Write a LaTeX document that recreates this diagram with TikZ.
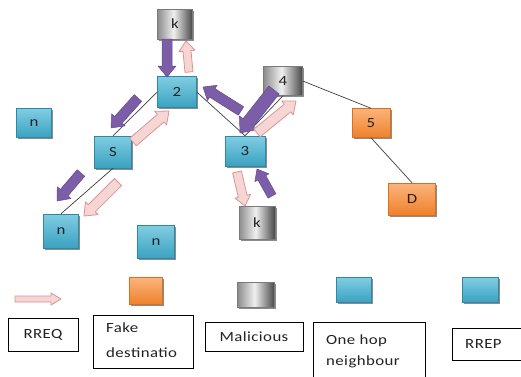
\documentclass[tikz,border=0pt]{standalone}
\usepackage{fontspec}
\setmainfont[LetterSpace=3,FakeStretch=1.2]{Carlito}
\usetikzlibrary{calc,shadows}
\definecolor{blueT}{HTML}{80CDE2}
\definecolor{blueB}{HTML}{3AA2C0}
\definecolor{blueD}{HTML}{2E87A6}
\definecolor{orT}{HTML}{FBB47C}
\definecolor{orB}{HTML}{EE812C}
\definecolor{orD}{HTML}{D9701E}
\definecolor{grD}{HTML}{7A7A7A}
\definecolor{purF}{HTML}{7B5EA7}
\definecolor{purD}{HTML}{654B8E}
\definecolor{pinkF}{HTML}{F6D6D5}
\definecolor{pinkD}{HTML}{D89593}
\definecolor{lineC}{HTML}{404040}
\definecolor{txt}{HTML}{222222}
\pgfdeclarehorizontalshading{grsh}{100bp}{color(0bp)=(black!45); color(25bp)=(black!45); color(48bp)=(black!6); color(75bp)=(black!72); color(100bp)=(black!72)}
\newcommand{\lblfont}{\fontsize{14}{17}\selectfont}
% block arrow: #1 style, #2 start, #3 end, #4 half shaft, #5 half head, #6 head length
\newcommand{\barrow}[6]{%
  \path #2 coordinate (ba) #3 coordinate (bb);
  \path ($(bb)!#6pt!(ba)$) coordinate (bm);
  \filldraw[#1] ($(ba)!#4pt!90:(bb)$) -- ($(bm)!#4pt!-90:(ba)$) -- ($(bm)!#5pt!-90:(ba)$)
    -- (bb) -- ($(bm)!#5pt!90:(ba)$) -- ($(bm)!#4pt!90:(ba)$) -- ($(ba)!#4pt!-90:(bb)$) -- cycle;
}
\tikzset{
  nd/.style={minimum width=38pt, minimum height=31pt, inner sep=0pt, font=\lblfont, text=txt,
    line width=0.5pt, drop shadow={shadow xshift=1.5pt, shadow yshift=-1.5pt, opacity=0.45, fill=black}},
  bnode/.style={nd, draw=blueD, top color=blueT, bottom color=blueB},
  onode/.style={nd, draw=orD, top color=orT, bottom color=orB},
  gnode/.style={nd, draw=grD, shading=grsh},
  link/.style={draw=lineC, line width=0.7pt},
  purarrow/.style={fill=purF, draw=purD, line width=0.5pt, line join=round},
  pinkarrow/.style={fill=pinkF, draw=pinkD, line width=0.8pt, line join=round},
  legbox/.style={draw=black, line width=0.7pt, fill=white, font=\lblfont, text=txt, inner sep=0pt},
  legtext/.style={font=\lblfont, text=txt, inner sep=0pt, align=left},
}
\begin{document}
\begin{tikzpicture}[x=1pt,y=-1pt]
\useasboundingbox (0,0) rectangle (521,376);
\clip (0,0) rectangle (521,376);
\fill[white] (0,0) rectangle (521,376);
% nodes
\node[gnode, minimum width=35pt, minimum height=30pt] (ktop) at (175,24) {k};
\node[bnode, minimum width=39pt] (n2) at (177,92) {2};
\node[bnode, minimum width=35pt, minimum height=29pt] (nl) at (34,123) {n};
\node[bnode, minimum width=37pt, minimum height=32pt] (S) at (113,152) {S};
\node[bnode, minimum width=40pt, minimum height=30pt] (n3) at (245,151) {3};
\node[gnode, minimum width=39pt, minimum height=29pt] (n4) at (283,81) {4};
\node[onode, minimum width=38pt, minimum height=29pt] (n5) at (371,123) {5};
\node[onode, minimum width=47pt, minimum height=32pt] (D) at (412,199) {D};
\node[gnode, minimum width=36pt, minimum height=33pt] (kb) at (257,223) {k};
\node[bnode, minimum width=35pt, minimum height=34pt] (nbl) at (61,231) {n};
\node[bnode, minimum width=37pt, minimum height=33pt] (nb) at (156,242) {n};
% links
\draw[link] (n2.west) -- (S.north);
\draw[link] (S.south) -- (nbl.north);
\draw[link] (n2.east) -- (n3.north);
\draw[link] (n3.north) -- (n4.south);
\draw[link] (n4.east) -- (n5.north);
\draw[link] (n5.south) -- (D.north);
% purple arrows (RREP)
\barrow{purarrow}{(167,39)}{(167,77)}{5}{9}{11}
\barrow{purarrow}{(138,98)}{(111,128)}{5}{9}{11}
\barrow{purarrow}{(81,173)}{(57,201)}{5}{9}{11}
\barrow{purarrow}{(241,111)}{(203,87)}{5}{9}{11}
\barrow{purarrow}{(274,90)}{(240,133)}{6.5}{11}{13}
\barrow{purarrow}{(272,196)}{(257,169)}{4.5}{8}{10}
% pink arrows (RREQ)
\barrow{pinkarrow}{(189,72)}{(186,41)}{4}{8}{10}
\barrow{pinkarrow}{(133,142)}{(169,111)}{5}{9}{11}
\barrow{pinkarrow}{(118,182)}{(84,216)}{5}{9}{11}
\barrow{pinkarrow}{(257,133)}{(296,101)}{5}{9}{11}
\barrow{pinkarrow}{(237,172)}{(245,206)}{4.5}{8}{10}
% legend symbols
\barrow{pinkarrow}{(15,299)}{(61,299)}{3}{6}{10}
\node[onode, minimum width=33pt, minimum height=27pt] (lo) at (146,291) {};
\node[gnode, minimum width=37pt, minimum height=25pt] (lg) at (256,295) {};
\node[bnode, minimum width=35pt, minimum height=25pt] (lb1) at (354,290) {};
\node[bnode, minimum width=36pt, minimum height=25pt] (lb2) at (480,290) {};
% legend boxes
\node[legbox, minimum width=70pt, minimum height=33pt] (t1) at (43,334.5) {RREQ};
\node[legbox, minimum width=100pt, minimum height=53pt] (t2) at (143,341.5) {};
\node[legtext, anchor=west] (t2a) at (106,328) {Fake};
\node[legtext, anchor=west] (t2b) at (106,353) {destinatio};
\node[legbox, minimum width=98pt, minimum height=29pt] (t3) at (254,336.5) {Malicious};
\node[legbox, minimum width=112pt, minimum height=60pt, anchor=north west] (t4) at (313,322) {};
\node[legtext, anchor=west] (t4a) at (326,341) {One hop};
\node[legtext, anchor=west] (t4b) at (326,362) {neighbour};
\node[legbox, minimum width=80pt, minimum height=32pt, anchor=north west] (t5) at (452,328) {};
\node[legtext, anchor=west] (t5t) at (465,344) {RREP};
\end{tikzpicture}
\end{document}
